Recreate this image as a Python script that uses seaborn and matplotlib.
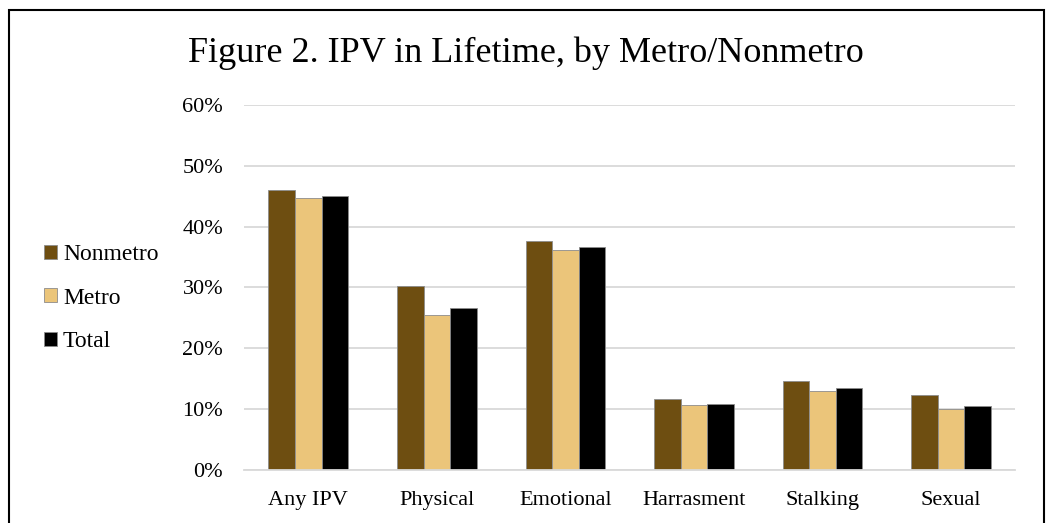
import pandas as pd
import matplotlib.pyplot as plt
import seaborn as sns
from matplotlib.patches import Rectangle
from matplotlib.ticker import PercentFormatter

categories = ["Any IPV", "Physical", "Emotional", "Harrasment", "Stalking", "Sexual"]
nonmetro = [0.460, 0.302, 0.377, 0.117, 0.147, 0.124]
metro = [0.447, 0.254, 0.362, 0.107, 0.130, 0.101]
total = [0.450, 0.266, 0.366, 0.109, 0.135, 0.106]
groups = ["Nonmetro", "Metro", "Total"]
colors = ["#6E4E11", "#EBC57A", "#000000"]

rows = []
for g, vals in zip(groups, [nonmetro, metro, total]):
    for c, v in zip(categories, vals):
        rows.append({"category": c, "group": g, "value": v})
df = pd.DataFrame(rows)

sns.set_style("white")
plt.rcParams["font.family"] = ["Liberation Serif", "DejaVu Serif"]
plt.rcParams["text.color"] = "black"

fig = plt.figure(figsize=(10.52, 5.23), dpi=100)
ax = fig.add_axes([0.232, 0.1013, 0.733, 0.698])

sns.barplot(data=df, x="category", y="value", hue="group", palette=colors,
            width=0.62, edgecolor="#8C8C8C", linewidth=0.6, ax=ax, saturation=1)

ax.set_ylim(0, 0.6)
ax.set_yticks([0, 0.1, 0.2, 0.3, 0.4, 0.5, 0.6])
ax.yaxis.set_major_formatter(PercentFormatter(1.0, decimals=0))
ax.grid(axis="y", color="#D9D9D9", linewidth=1.3)
ax.set_axisbelow(True)
for s in ["top", "right", "left"]:
    ax.spines[s].set_visible(False)
ax.spines["bottom"].set_color("#D9D9D9")
ax.spines["bottom"].set_linewidth(1.3)
ax.tick_params(axis="both", length=0, labelsize=16, labelcolor="black")
ax.tick_params(axis="y", pad=15)
ax.tick_params(axis="x", pad=15)
ax.set_xlabel("")
ax.set_ylabel("")

ax.legend(loc="center left", bbox_to_anchor=(-0.2716, 0.471), frameon=False,
          fontsize=17, handlelength=0.55, handleheight=0.55, handletextpad=0.25,
          labelspacing=0.95, borderaxespad=0)

fig.text(0.5, 0.898, "Figure 2. IPV in Lifetime, by Metro/Nonmetro",
         ha="center", va="center", fontsize=26)

fig.patches.append(Rectangle((9.5 / 1052, -0.05), (1044 - 9.5) / 1052, 1.05 - 10 / 523,
                             transform=fig.transFigure, fill=False,
                             edgecolor="#000000", linewidth=1.5))

fig.savefig("out.png", dpi=100)
